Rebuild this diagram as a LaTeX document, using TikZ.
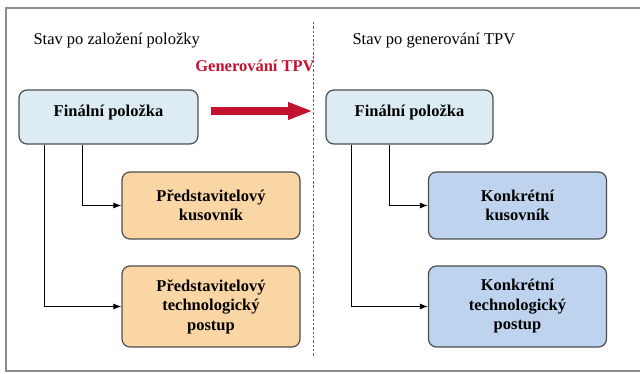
\documentclass[tikz,border=0pt]{standalone}
\usepackage{fontspec}
\setmainfont{Liberation Serif}
\usetikzlibrary{arrows.meta}

\definecolor{Cyan}{HTML}{DDECF4}
\definecolor{Orange}{HTML}{FAD6A5}
\definecolor{Blue}{HTML}{BDD3EE}
\definecolor{Edge}{HTML}{4D4D4D}
\definecolor{Red}{HTML}{C4122F}
\definecolor{Frame}{HTML}{8C8C8C}

\tikzstyle{Box} = [draw=Edge,
                   line width=1.2pt,
                   rectangle,
                   rounded corners=8pt,
                   align=center,
                   font=\fontsize{16.5}{19.5}\selectfont\bfseries]
\tikzstyle{Final} = [Box, fill=Cyan, minimum height=54pt, text depth=12pt]
\tikzstyle{Repre} = [Box, fill=Orange, minimum width=178pt]
\tikzstyle{Konkr} = [Box, fill=Blue, minimum width=178pt]
\tikzstyle{Line} = [line width=1pt, -{Latex[length=8pt, width=6pt]}]

\begin{document}
\begin{tikzpicture}[x=1pt, y=-1pt]
	\useasboundingbox (0,0) rectangle (640,374);
	\draw[Frame, line width=1.5pt] (640,8) -| (6,371) -- (640,371);

	\node[anchor=base west, font=\fontsize{16.5}{19.5}\selectfont] (stav1) at (30,45) {Stav po založení položky};
	\node[anchor=base west, font=\fontsize{16.5}{19.5}\selectfont] (stav2) at (349,45) {Stav po generování TPV};
	\node[anchor=base, text=Red, font=\fontsize{16.5}{19.5}\selectfont\bfseries] (gen) at (255,72) {Generování TPV};

	% Divider
	\coordinate (dtop) at (313,22);
	\coordinate (dbot) at (313,357);
	\draw[gray!80!black, line width=1pt, dash pattern=on 2.5pt off 1.8pt] (dtop) -- (dbot);

	% Item nodes
	\node (final) at (108.5,117) [Final, minimum width=179pt]{Finální položka};
	\node (finalk) at (409.5,117) [Final, minimum width=167pt]{Finální položka};

	\node (reprekus) at (211,205.5) [Repre, minimum height=67pt]{Představitelový \\ kusovník};
	\node (repretech) at (211,306.5) [Repre, minimum height=81pt]{Představitelový \\ technologický \\ postup};
	\node (konkrkus) at (517.5,205.5) [Konkr, minimum height=67pt]{Konkrétní \\ kusovník};
	\node (konkrtech) at (517.5,306.5) [Konkr, minimum height=81pt]{Konkrétní \\ technologický \\ postup};

	% Lines
	\coordinate (tip) at (313,111);
	\draw[Red, line width=8pt, -{Triangle[length=25pt, width=16pt]}] ([xshift=12pt]tip -| final.east) -- (tip);

	\draw[Line] ([xshift=64pt]final.south west) |- (reprekus.west);
	\draw[Line] ([xshift=26pt]final.south west) |- (repretech.west);
	\draw[Line] ([xshift=64pt]finalk.south west) |- (konkrkus.west);
	\draw[Line] ([xshift=26pt]finalk.south west) |- (konkrtech.west);

\end{tikzpicture}
\end{document}
